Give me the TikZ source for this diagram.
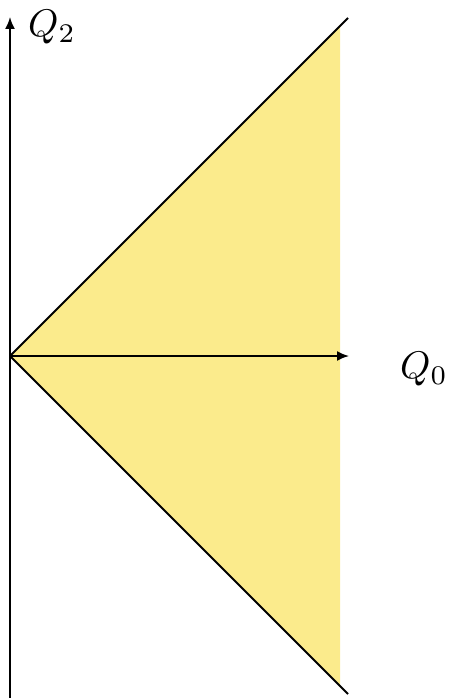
\documentclass[tikz,border=0pt]{standalone}
\usetikzlibrary{arrows.meta}
\definecolor{coneyellow}{RGB}{251,235,140}
\begin{document}
\begin{tikzpicture}[x=1pt,y=-1pt,
  axis/.style={line width=1.8pt,-{Latex[length=12pt,width=10pt]}},
  cone/.style={line width=1.8pt}]
\useasboundingbox (0,0) rectangle (450,698);
\coordinate (O) at (10,356);
\coordinate (U) at (348,18);
\coordinate (D) at (348,694);
\fill[coneyellow] (O) -- (340,26) -- (340,686) -- cycle;
\draw[cone] (O) -- (U);
\draw[cone] (O) -- (D);
\coordinate (vb) at (10,700);
\coordinate (vt) at (10,17);
\coordinate (ht) at (349,356);
\draw[axis] (vb) -- (vt);
\draw[axis] (O) -- (ht);
\node (q2) at (52,27) {\scalebox{3.85}{$Q_2$}};
\node (q0) at (424,369) {\scalebox{3.85}{$Q_0$}};
\end{tikzpicture}
\end{document}
